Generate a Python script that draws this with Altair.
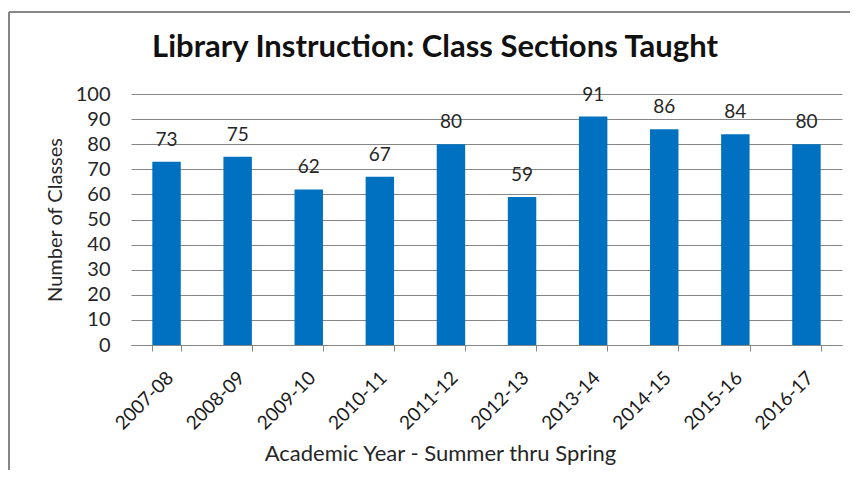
import altair as alt
import pandas as pd

years = ["2007-08", "2008-09", "2009-10", "2010-11", "2011-12",
         "2012-13", "2013-14", "2014-15", "2015-16", "2016-17"]
classes = [73, 75, 62, 67, 80, 59, 91, 86, 84, 80]
title_text = ["Library Instruction: Class Sections Taught"]

df = pd.DataFrame({"year": years, "classes": classes})
FONT = "Lato"
GRAY = "#868686"

x = alt.X("year:N", sort=years,
          scale=alt.Scale(paddingInner=0.6, paddingOuter=0.3),
          axis=alt.Axis(title="Academic Year - Summer thru Spring",
                        labelAngle=-45, labelFontSize=19, labelColor="#1a1a1a",
                        labelFont=FONT, labelPadding=17, labelOffset=-3,
                        tickBand="extent", tickSize=6, tickColor=GRAY,
                        domainColor=GRAY, titleFont=FONT, titleFontSize=22,
                        titleFontWeight="normal", titleColor="#262626",
                        titleX=309, titleY=108, titleBaseline="middle",
                        titleAnchor="middle", titleAlign="center"))
y = alt.Y("classes:Q", scale=alt.Scale(domain=[0, 100]),
          axis=alt.Axis(title="Number of Classes", values=list(range(0, 101, 10)),
                        grid=True, gridColor=GRAY, domain=False, ticks=False,
                        labelFontSize=20, labelFont=FONT, labelColor="#262626",
                        labelPadding=21, labelOverlap=False, titleFont=FONT,
                        titleFontSize=20, titleFontWeight="normal",
                        titleColor="#262626", titlePadding=10))

base = alt.Chart(df).encode(x=x, y=y)
bars = base.mark_bar(color="#0070C0")
labels = base.mark_text(fontSize=19, font=FONT, color="#262626",
                        baseline="middle", dy=-22).encode(text="classes:Q")

title = alt.Chart(pd.DataFrame({"t": title_text})).mark_text(
    fontSize=31, font=FONT, fontWeight="bold", color="#111111",
    align="center", baseline="middle").encode(
    x=alt.value(304), y=alt.value(-46), text="t:N")

frame_left = alt.Chart(pd.DataFrame({"a": [0]})).mark_rule(
    color=GRAY, strokeWidth=2).encode(
    x=alt.value(-122), y=alt.value(-82), y2=alt.value(380))
frame_top = alt.Chart(pd.DataFrame({"a": [0]})).mark_rule(
    color=GRAY, strokeWidth=2).encode(
    x=alt.value(-122), x2=alt.value(730), y=alt.value(-82))

chart = alt.layer(bars, labels, title, frame_left, frame_top).properties(
    width=711, height=251,
    autosize=alt.AutoSizeParams(type="none"),
    padding={"left": 123, "top": 86, "right": 8, "bottom": 125},
).configure_view(stroke=None)

chart.save("out.html", embed_options={"renderer": "svg", "actions": False})
